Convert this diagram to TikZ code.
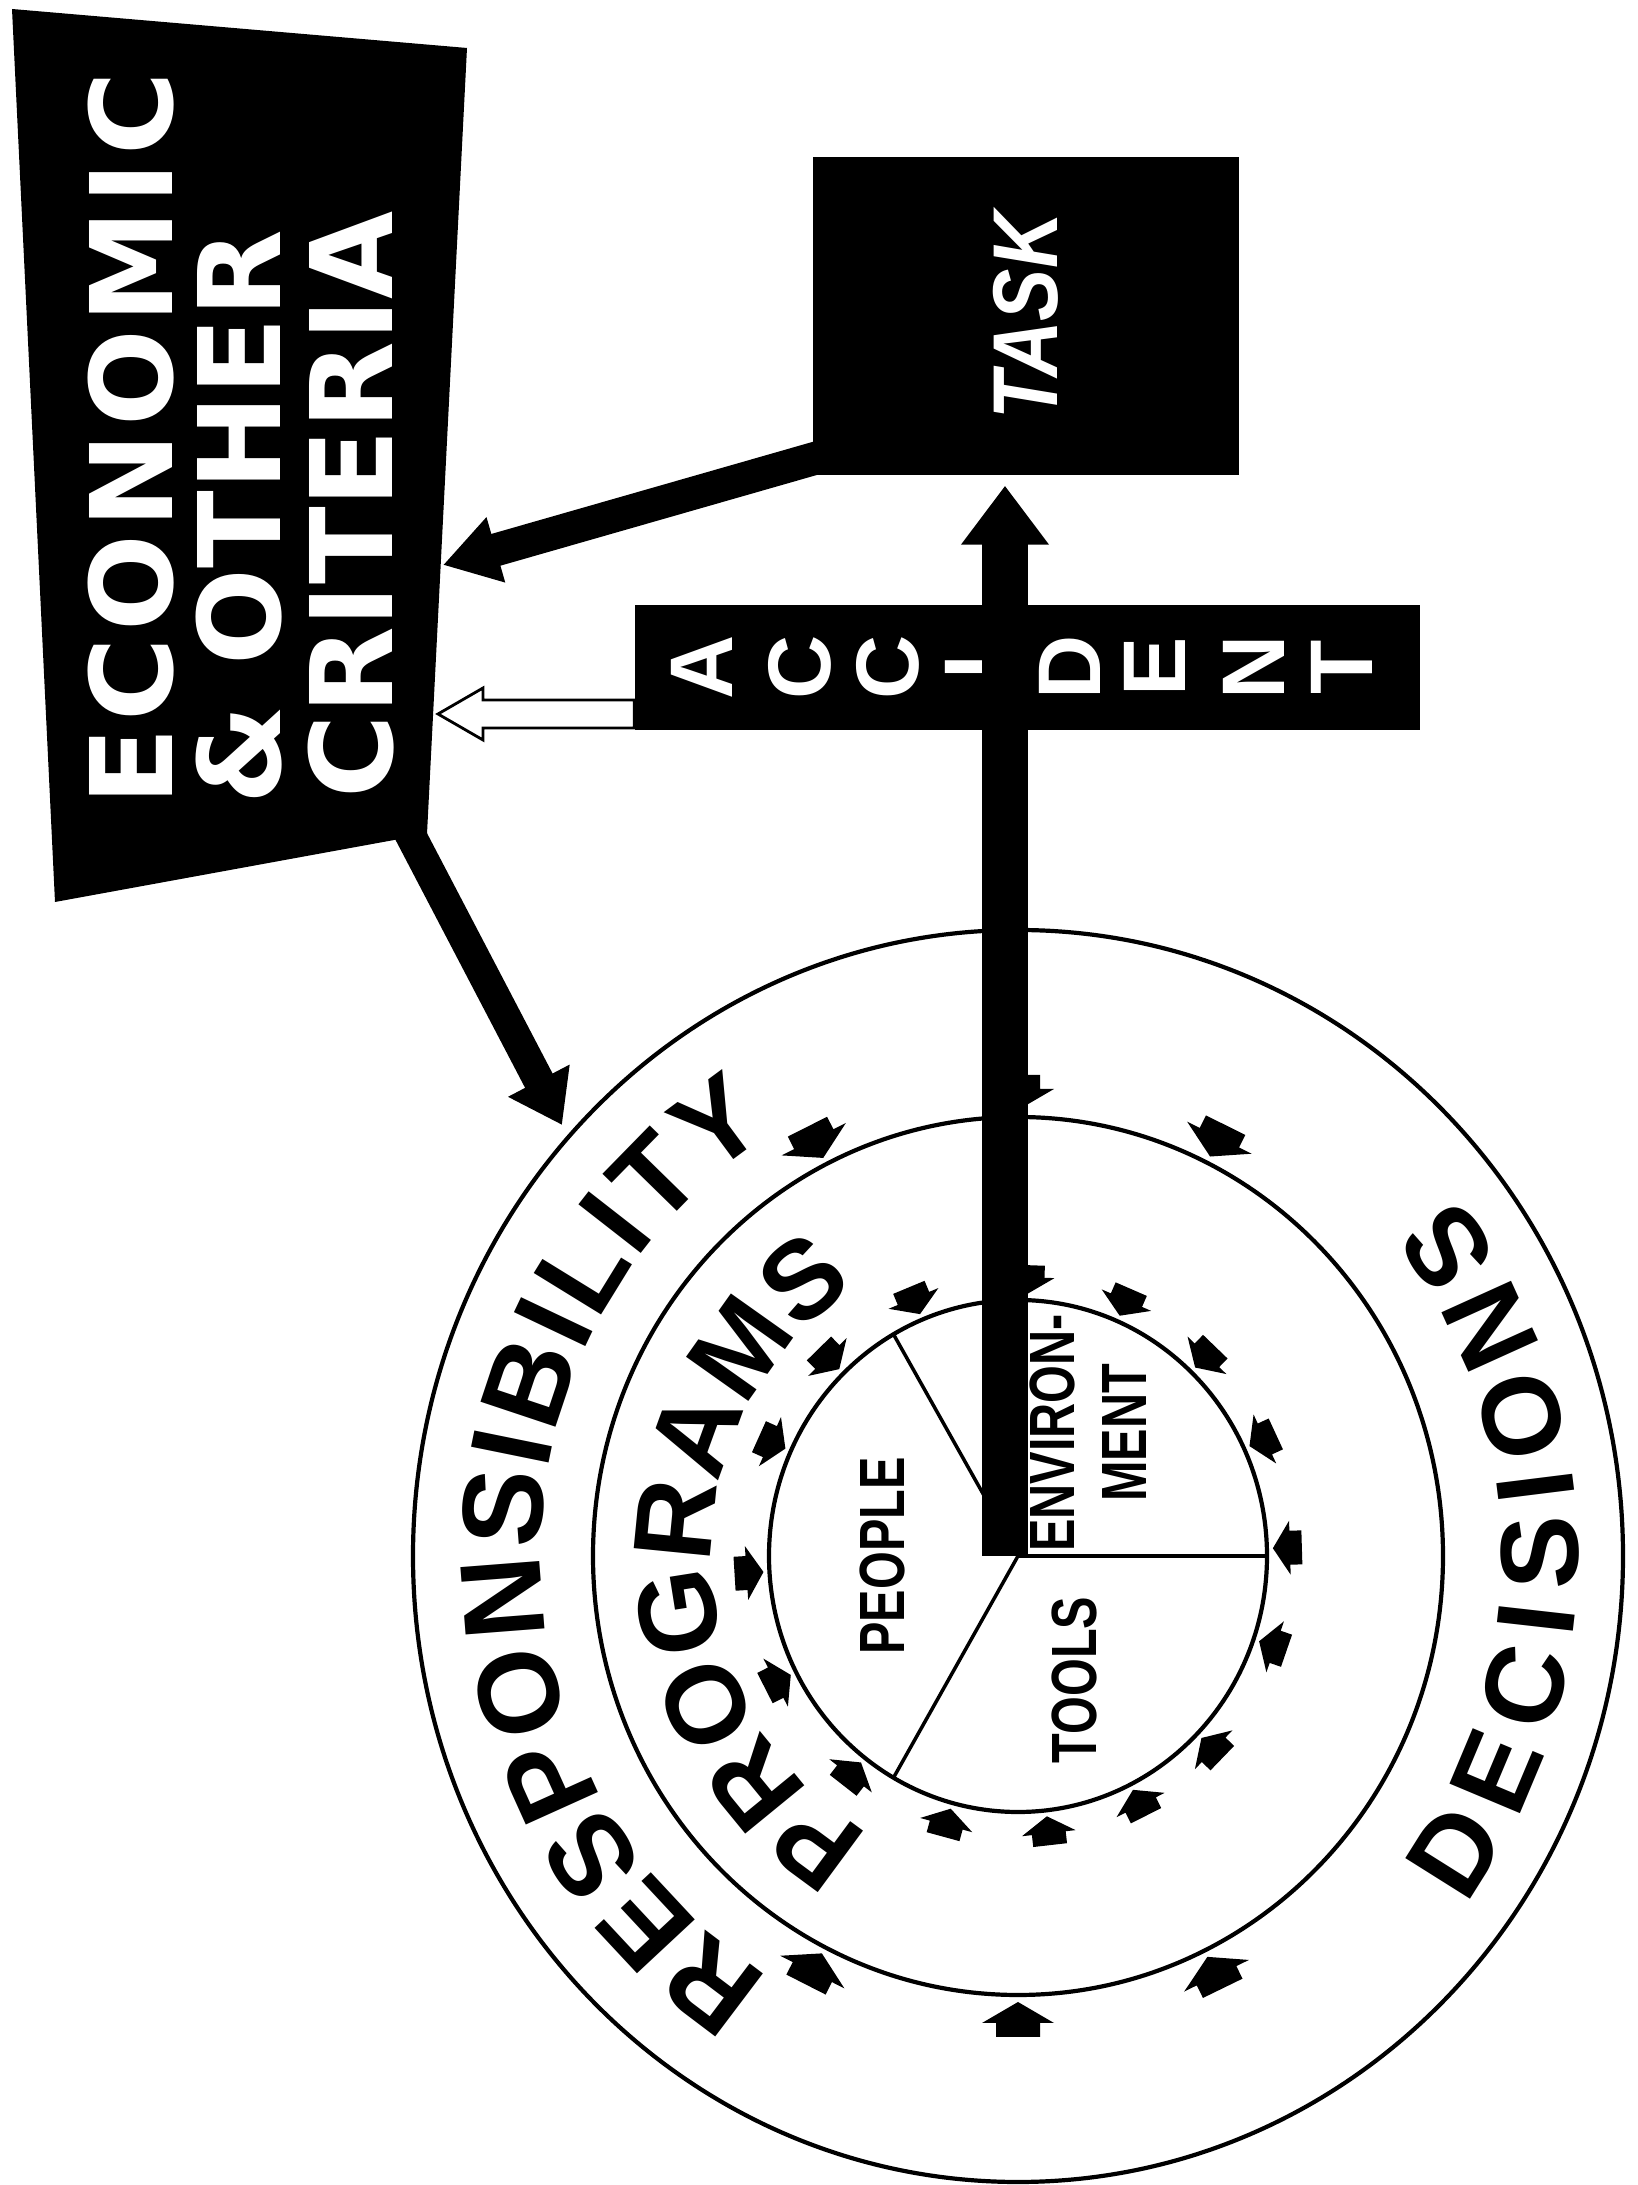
\documentclass[tikz,border=0pt]{standalone}
\usepackage{fontspec}
\usepackage{graphicx}
\setmainfont{Liberation Sans}
\newfontfamily\econfam{DejaVu Sans}
\newfontfamily\condfam[FakeStretch=0.76]{Liberation Sans}
\newfontfamily\taskfam[FakeStretch=0.85]{Liberation Sans}
\usetikzlibrary{arrows.meta,calc,decorations.text}
\newcommand\econsize{\econfam\bfseries\fontsize{32.4pt}{34pt}\selectfont}
\newcommand\respsize{\bfseries\fontsize{32.7pt}{34pt}\selectfont}
\newcommand\progsize{\bfseries\fontsize{31.6pt}{33pt}\selectfont}
\newcommand\accsize{\bfseries\fontsize{25.3pt}{27pt}\selectfont}
\newcommand\tasksize{\taskfam\bfseries\itshape\fontsize{26.2pt}{28pt}\selectfont}
\newcommand\piesize{\condfam\bfseries\fontsize{18.2pt}{20.5pt}\selectfont}
\tikzset{
  arrA/.pic={\fill (0,0) -- (-21,36) -- (-21,22) -- (-35,22) -- (-35,-22) -- (-21,-22) -- (-21,-36) -- cycle;},
  arrB/.pic={\fill (0,0) -- (-17,27) -- (-17,17) -- (-29,17) -- (-29,-17) -- (-17,-17) -- (-17,-27) -- cycle;}
}
\begin{document}
\begin{tikzpicture}[x=0.1mm,y=0.1mm,
  ringline/.style={line width=0.42mm},
  pieline/.style={line width=0.35mm},
  blackbox/.style={fill=black,draw=none,inner sep=0pt,text=white},
  rottext/.style={rotate=90,inner sep=0pt,text=white},
  pietext/.style={rotate=90,inner sep=0pt,font=\piesize,align=center},
  bigarrow/.style={line width=3.1mm,-{Triangle[length=5mm,width=6.6mm]}},
  taskarrow/.style={line width=3.3mm,-{Triangle[length=5.5mm,width=6.4mm]}},
  barline/.style={line width=4.6mm,-{Triangle[length=5.9mm,width=8.4mm]},shorten >=1mm},
  hollowarrow/.style={draw=black,line width=0.28mm,fill=white,line join=miter}
]
\fill[white] (0,0) rectangle (1638,2185);
\useasboundingbox (0,0) rectangle (1638,2185);

% circles
\coordinate (C) at (1018,629);
\draw[ringline] (C) ellipse [x radius=605, y radius=626];
\draw[ringline] (C) ellipse [x radius=425, y radius=439];
\draw[ringline] (C) ellipse [x radius=249, y radius=256];

% pie divisions
\coordinate (p0) at ($(C)+(249,0)$);
\coordinate (p1) at ($(C)+({249*cos(120)},{256*sin(120)})$);
\coordinate (p2) at ($(C)+({249*cos(240)},{256*sin(240)})$);
\draw[pieline] (C) -- (p0);
\draw[pieline] (C) -- (p1);
\draw[pieline] (C) -- (p2);

\node[pietext] (people) at (882,629) {PEOPLE};
\node[pietext] (envir) at (1088,752) {ENVIRON-\\MENT};
\node[pietext] (tools) at (1074,505) {TOOLS};

% curved texts
\path[decorate,decoration={text along path,text={|\respsize|RESPONSIBILITY},text align=fit to path}]
  ($(C)+({477*cos(238.7)},{493*sin(238.7)})$) arc[start angle=238.7,end angle=121,x radius=477,y radius=493];
\path[decorate,decoration={text along path,text={|\progsize|PROGRAMS},text align=fit to path}]
  ($(C)+({306*cos(241.3)},{316*sin(241.3)})$) arc[start angle=241.3,end angle=122.4,x radius=306,y radius=316];
\path[decorate,decoration={text along path,text={|\progsize|DECISIONS},text align=fit to path}]
  ($(C)+({560*cos(-37)},{579*sin(-37)})$) arc[start angle=-37,end angle=38.3,x radius=560,y radius=579];

% small arrows
\foreach \a in {63.6,90,116.8,243,270,296}
  \path ($(C)+({432*cos(\a)},{446*sin(\a)})$) pic[rotate=\a+180]{arrA};
\foreach \a in {1.7,24.8,46,66.5,88,112.6,134.5,155.8,183.5,207,232,254.7,276.5,296.8,316,341}
  \path ($(C)+({255*cos(\a)},{262*sin(\a)})$) pic[rotate=\a+180]{arrB};

% economic box
\coordinate (e1) at (12,2176);
\coordinate (e2) at (467,2137);
\coordinate (e3) at (427,1351);
\coordinate (e4) at (55,1283);
\fill[black] (e1) -- (e2) -- (e3) -- (e4) -- cycle;
\node[rottext,font=\econsize,anchor=base west] (econ1) at (172,1379) {\addfontfeature{LetterSpace=5.5}ECONOMIC};
\node[rottext,font=\econsize,anchor=base west] (econ2) at (280,1380) {\& OTHER};
\node[rottext,font=\econsize,anchor=base west] (econ3) at (392,1386) {CRITERIA};

% task box
\node[blackbox,minimum width=42.6mm,minimum height=31.8mm] (task) at (1026,1869)
  {\rotatebox{90}{\tasksize TASK}};

% accident box
\node[blackbox,minimum width=78.5mm,minimum height=12.5mm] (acc) at (1027.5,1517.5) {};
\node[rottext,font=\accsize] (acc1) at (702,1518) {A};
\node[rottext,font=\accsize] (acc2) at (800,1518) {C};
\node[rottext,font=\accsize] (acc3) at (888,1518) {C};
\node[rottext,font=\accsize] (acc4) at (976,1518) {I};
\node[rottext,font=\accsize] (acc5) at (1070,1518) {D};
\node[rottext,font=\accsize] (acc6) at (1155,1518) {E};
\node[rottext,font=\accsize] (acc7) at (1254,1518) {N};
\node[rottext,font=\accsize] (acc8) at (1342,1518) {T};

% connectors
\coordinate (barbot) at (1005,629);
\draw[barline] (barbot) -- (barbot |- task.south);

\coordinate (taskout) at ($(task.south west)+(12,20)$);
\coordinate (econin1) at (443,1620);
\draw[taskarrow] (taskout) -- (econin1);

\coordinate (econout) at (400,1370);
\coordinate (resptip) at (562,1060);
\draw[bigarrow] (econout) -- (resptip);

\coordinate (hstart) at (acc.west |- 0,1471);
\coordinate (htip) at (438,1471);
\draw[hollowarrow] (htip) -- ($(htip)+(45,26)$) -- ($(htip)+(45,14)$) -- ($(hstart)+(0,14)$)
  -- ($(hstart)+(0,-14)$) -- ($(htip)+(45,-14)$) -- ($(htip)+(45,-26)$) -- cycle;
\end{tikzpicture}
\end{document}
